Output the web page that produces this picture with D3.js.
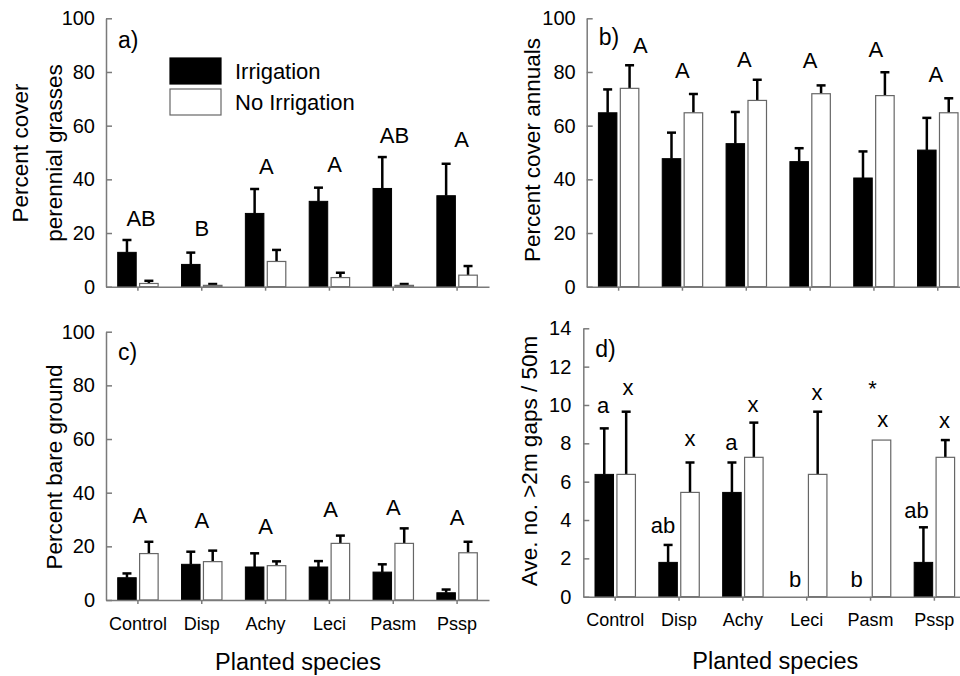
<!DOCTYPE html>
<html>
<head>
<meta charset="utf-8">
<script src="https://cdn.jsdelivr.net/npm/d3@7"></script>
<style>
  html, body { margin: 0; padding: 0; background: #fff; }
  svg { display: block; font-family: "Liberation Sans", Arial, sans-serif; }
</style>
</head>
<body>
<svg id="chart" width="960" height="676"></svg>
<script>
// ---------------- DATA ----------------
const categories = ["Control", "Disp", "Achy", "Leci", "Pasm", "Pssp"];
const seriesNames = ["Irrigation", "No Irrigation"];

// a) Percent cover perennial grasses
const perennialIrr     = [12.8, 8.3, 27.3, 31.8, 36.6, 33.9];
const perennialIrrSE   = [4.6, 4.4, 9.1, 5.1, 11.7, 11.9];
const perennialNoIrr   = [1.2, 0.5, 9.4, 3.4, 0.5, 4.3];
const perennialNoIrrSE = [1.0, 0.5, 4.3, 1.8, 0.5, 3.4];
const perennialLetters = ["AB", "B", "A", "A", "AB", "A"];
const perennialLetterY = [22.7, 19.0, 42.0, 42.7, 53.7, 52.2];

// b) Percent cover annuals
const annualIrr     = [64.8, 47.7, 53.3, 46.6, 40.5, 50.9];
const annualIrrSE   = [8.7, 9.7, 11.8, 5.0, 9.9, 12.0];
const annualNoIrr   = [73.9, 64.8, 69.4, 71.9, 71.2, 64.8];
const annualNoIrrSE = [8.6, 7.0, 7.7, 3.1, 8.7, 5.4];
const annualLetters = ["A", "A", "A", "A", "A", "A"];
const annualLetterY = [87.0, 77.6, 82.0, 81.4, 85.5, 76.4];

// c) Percent bare ground
const bareIrr     = [8.3, 13.3, 12.3, 12.3, 10.4, 2.7];
const bareIrrSE   = [1.6, 4.7, 5.1, 2.2, 2.9, 1.2];
const bareNoIrr   = [17.3, 14.3, 12.8, 21.1, 21.1, 17.6];
const bareNoIrrSE = [4.4, 4.1, 1.6, 2.9, 5.6, 4.1];
const bareLetters = ["A", "A", "A", "A", "A", "A"];
const bareLetterY = [28.6, 26.7, 24.6, 31.0, 31.7, 28.0];

// d) Ave. no. >2m gaps / 50m
const gapsIrr     = [6.38, 1.79, 5.44, 0, 0, 1.79];
const gapsIrrSE   = [2.40, 0.91, 1.56, 0, 0, 1.83];
const gapsNoIrr   = [6.38, 5.44, 7.27, 6.38, 8.17, 7.27];
const gapsNoIrrSE = [3.27, 1.56, 1.81, 3.27, 0, 0.90];
const gapsIrrLetters   = ["a", "ab", "a", "b", "b", "ab"];
const gapsIrrLetterY   = [9.57, 3.3, 7.65, 0.52, 0.52, 4.09];
const gapsNoIrrLetters = ["x", "x", "x", "x", "x", "x"];
const gapsNoIrrLetterY = [10.5, 7.86, 9.65, 10.26, 8.87, 8.78];
const gapsStar = { category: "Pasm", text: "*", y: 10.45 };

// tick values
const coverTicks = [0, 20, 40, 60, 80, 100];
const gapTicks = [0, 2, 4, 6, 8, 10, 12, 14];

// ---------------- DRAWING ----------------
const svg = d3.select("#chart");
const AXIS_COLOR = "#7a7a7a";
const FONT = "\"Liberation Sans\", Arial, sans-serif";

function drawPanel(p) {
  const g = svg.append("g");
  const x = d3.scaleBand().domain(categories).range([p.x0, p.x0 + 383]).paddingInner(0).paddingOuter(0);
  const y = d3.scaleLinear().domain([0, p.ymax]).range([p.yBottom, p.yTop]);
  const bw = x.bandwidth();
  const barW = bw * 0.29;
  const gap = 1.7;
  const cx = c => x(c) + bw / 2;

  const rows = categories.map((c, i) => ({
    c, irr: p.irr[i], irrSE: p.irrSE[i], no: p.no[i], noSE: p.noSE[i]
  }));

  // error bars
  const eb = [];
  rows.forEach(r => {
    if (r.irrSE > 0) eb.push({ xc: cx(r.c) - gap - barW / 2, v: r.irr, se: r.irrSE });
    if (r.noSE > 0) eb.push({ xc: cx(r.c) + gap + barW / 2, v: r.no, se: r.noSE });
  });

  g.selectAll(".ebv").data(eb).join("line")
    .attr("x1", d => d.xc).attr("x2", d => d.xc)
    .attr("y1", d => y(d.v)).attr("y2", d => y(d.v + d.se))
    .attr("stroke", "#000").attr("stroke-width", 2.5);
  g.selectAll(".ebc").data(eb).join("line")
    .attr("x1", d => d.xc - 4.5).attr("x2", d => d.xc + 4.5)
    .attr("y1", d => y(d.v + d.se)).attr("y2", d => y(d.v + d.se))
    .attr("stroke", "#000").attr("stroke-width", 2.5);

  g.selectAll(".barIrr").data(rows.filter(r => r.irr > 0)).join("rect")
    .attr("x", d => cx(d.c) - gap - barW)
    .attr("y", d => y(d.irr))
    .attr("width", barW)
    .attr("height", d => y(0) - y(d.irr))
    .attr("fill", "#000").attr("stroke", "#000").attr("stroke-width", 1);

  g.selectAll(".barNo").data(rows.filter(r => r.no > 0)).join("rect")
    .attr("x", d => cx(d.c) + gap)
    .attr("y", d => y(d.no))
    .attr("width", barW)
    .attr("height", d => y(0) - y(d.no))
    .attr("fill", "#fff").attr("stroke", "#666").attr("stroke-width", 1.2);

  // axes
  const yAxis = d3.axisLeft(y).tickValues(p.ticks).tickSizeInner(-6).tickSizeOuter(0).tickPadding(p.tickPad);
  const ya = g.append("g").attr("transform", `translate(${p.x0},0)`).call(yAxis);
  ya.select(".domain").attr("stroke", AXIS_COLOR).attr("stroke-width", 1.5);
  ya.selectAll(".tick line").attr("stroke", AXIS_COLOR).attr("stroke-width", 1.5);
  ya.selectAll(".tick text").attr("font-size", 20).attr("font-family", FONT).attr("fill", "#000");

  const xAxis = d3.axisBottom(x).tickSizeInner(4).tickSizeOuter(0).tickPadding(13)
    .tickFormat(p.showCats ? (d => d) : (() => ""));
  const xa = g.append("g").attr("transform", `translate(0,${p.yBottom})`).call(xAxis);
  xa.select(".domain").attr("stroke", AXIS_COLOR).attr("stroke-width", 1.5);
  xa.selectAll(".tick line").attr("stroke", AXIS_COLOR).attr("stroke-width", 1.5);
  xa.selectAll(".tick text").attr("font-size", 18).attr("font-family", FONT).attr("fill", "#000");

  // letters
  p.letters.forEach(L => {
    g.selectAll(null).data(categories).join("text")
      .attr("x", (c, i) => cx(c) + L.dx[i] * bw)
      .attr("y", (c, i) => y(L.y[i]))
      .attr("text-anchor", "middle")
      .attr("font-size", 22).attr("font-family", FONT)
      .text((c, i) => L.text[i]);
  });
  if (p.star) {
    g.append("text")
      .attr("x", cx(p.star.category) + 0.03 * bw)
      .attr("y", y(p.star.y))
      .attr("text-anchor", "middle")
      .attr("font-size", 22).attr("font-family", FONT)
      .text(p.star.text);
  }

  // panel label
  g.append("text").attr("x", p.x0 + 12).attr("y", p.labelY)
    .attr("font-size", 23).attr("font-family", FONT).text(p.panel);

  // y title
  p.ytitle.forEach((t, i) => {
    g.append("text")
      .attr("transform", `translate(${p.ytitleX[i]},${p.ytitleCY}) rotate(-90)`)
      .attr("text-anchor", "middle")
      .attr("font-size", 22.5).attr("font-family", FONT)
      .text(t);
  });

  if (p.xtitle) {
    g.append("text").attr("x", p.x0 + 192).attr("y", p.xtitleY)
      .attr("text-anchor", "middle")
      .attr("font-size", 23.5).attr("font-family", FONT)
      .text(p.xtitle);
  }
  return { x, y };
}

drawPanel({
  x0: 106, yBottom: 286.7, yTop: 18.3, ymax: 100, ticks: coverTicks, tickPad: 11,
  irr: perennialIrr, irrSE: perennialIrrSE, no: perennialNoIrr, noSE: perennialNoIrrSE,
  letters: [{ text: perennialLetters, y: perennialLetterY, dx: [0.05, 0, 0.01, 0.08, 0.02, 0.07] }],
  panel: "a)", labelY: 48,
  ytitle: ["Percent cover", "perennial grasses"], ytitleX: [28, 62], ytitleCY: 153,
  showCats: false
});

drawPanel({
  x0: 586.7, yBottom: 286.7, yTop: 18.3, ymax: 100, ticks: coverTicks, tickPad: 11,
  irr: annualIrr, irrSE: annualIrrSE, no: annualNoIrr, noSE: annualNoIrrSE,
  letters: [{ text: annualLetters, y: annualLetterY, dx: [0.34, 0, -0.03, 0, 0.03, -0.03] }],
  panel: "b)", labelY: 45,
  ytitle: ["Percent cover annuals"], ytitleX: [540], ytitleCY: 150,
  showCats: false
});

drawPanel({
  x0: 106, yBottom: 600, yTop: 331.7, ymax: 100, ticks: coverTicks, tickPad: 11,
  irr: bareIrr, irrSE: bareIrrSE, no: bareNoIrr, noSE: bareNoIrrSE,
  letters: [{ text: bareLetters, y: bareLetterY, dx: [0.03, 0, 0, 0.02, 0, 0] }],
  panel: "c)", labelY: 360,
  ytitle: ["Percent bare ground"], ytitleX: [62], ytitleCY: 467,
  showCats: true, xtitle: "Planted species", xtitleY: 670
});

drawPanel({
  x0: 583.3, yBottom: 596.7, yTop: 328.3, ymax: 14, ticks: gapTicks, tickPad: 12,
  irr: gapsIrr, irrSE: gapsIrrSE, no: gapsNoIrr, noSE: gapsNoIrrSE,
  letters: [
    { text: gapsIrrLetters, y: gapsIrrLetterY, dx: [-0.19, -0.25, -0.18, -0.18, -0.22, -0.28] },
    { text: gapsNoIrrLetters, y: gapsNoIrrLetterY, dx: [0.2, 0.17, 0.16, 0.16, 0.19, 0.16] }
  ],
  star: gapsStar,
  panel: "d)", labelY: 357,
  ytitle: ["Ave. no. >2m gaps / 50m"], ytitleX: [537], ytitleCY: 461,
  showCats: true, xtitle: "Planted species", xtitleY: 669
});

// legend (panel a)
const legend = svg.append("g");
const legendRows = seriesNames.map((n, i) => ({ n, i }));
legend.selectAll("rect").data(legendRows).join("rect")
  .attr("x", 170).attr("y", d => 58 + d.i * 31)
  .attr("width", 51).attr("height", 26)
  .attr("fill", d => d.i === 0 ? "#000" : "#fff")
  .attr("stroke", d => d.i === 0 ? "#000" : "#666").attr("stroke-width", 1.2);
legend.selectAll("text").data(legendRows).join("text")
  .attr("x", 235).attr("y", d => 79 + d.i * 31)
  .attr("font-size", 22).attr("font-family", FONT)
  .text(d => d.n);
</script>
</body>
</html>
